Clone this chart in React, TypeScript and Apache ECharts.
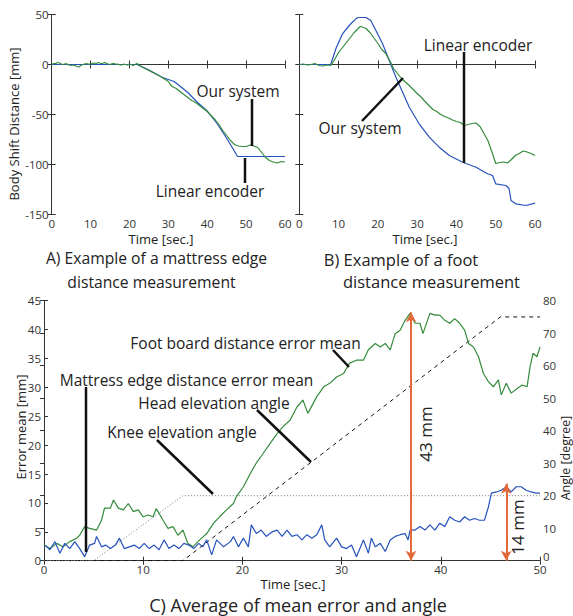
import React, { useEffect, useRef } from "react";
import * as echarts from "echarts";

const FONT = "'Open Sans', 'DejaVu Sans', sans-serif";
const GREEN = "#348c3c";
const BLUE = "#2652bc";
const ORANGE = "#e2693a";
const INK = "#222";

// Panel A: mattress edge distance (time [s], distance [mm])
const mattressEncoder: number[][] = [
  [0, 0], [22, 0], [25, -5.5], [28.5, -13], [31.5, -17], [35, -28], [37.5, -38],
  [40, -46.5], [42.7, -60], [45.2, -75], [47.8, -92], [60, -92],
];
const mattressOurs: number[][] = [
  [0, 0], [0.5, 1], [1, 1], [1.5, 2], [2, 1.5], [2.5, 0.5], [3, 0], [3.5, 0.8], [4, 0.5], [4.5, -0.5],
  [5, -1], [5.5, -0.5], [6, -1.2], [6.5, -2], [7, -2.5], [7.5, -1], [8, 0], [8.5, 0.5], [9, 1], [9.5, 0.3],
  [10, 0.5], [10.5, 1.2], [11, 1.5], [11.5, 1], [12, 2], [12.5, 1.2], [13, 1], [13.5, 1.8], [14, 1.5],
  [14.5, 0.5], [15, 0], [15.5, 0.8], [16, 1], [16.5, 0.2], [17, 0.5], [17.5, -0.3], [18, -0.5], [18.5, 0.3],
  [19, 0], [19.5, -0.5], [20, 0.5], [20.5, -0.2], [21, -1], [21.5, 0.2], [22, 1], [22.5, -1], [23, -2],
  [24, -4], [25, -6], [26, -8], [27, -10], [28, -12], [29, -14.5], [30, -17], [30.5, -20], [31, -22],
  [32, -24], [33, -27], [34, -30], [35, -33], [36, -36], [37, -38], [38, -41], [39, -44], [40, -47],
  [41, -51], [42, -55], [43, -60], [44, -66], [45, -71], [46, -76], [47, -80], [48, -81.5], [49, -82],
  [50, -82], [51, -80.5], [52, -81.5], [53, -83], [54, -88], [55, -93], [56, -96], [57, -97.5],
  [58, -98.5], [59, -97], [60, -97.5],
];

// Panel B: foot distance (time [s], distance [mm])
const footEncoder: number[][] = [
  [0, 0], [8, 0], [9.3, 15.7], [11, 30.7], [12.7, 39], [14.4, 45.7], [15, 47], [17, 47], [18.2, 44],
  [19.5, 34], [21.2, 20.7], [22.9, 4], [24.6, -12.7], [26.3, -27.7], [28, -42.7], [30.5, -59.3],
  [33.1, -72.7], [35.6, -82.7], [38.2, -91], [41.6, -97.7], [45, -102.7], [47.9, -109.3], [49.2, -111],
  [50, -119.3], [52.6, -121], [53.4, -124], [53.9, -136], [55.1, -139.3], [57.7, -141], [60, -138.7],
];
const footOurs: number[][] = [
  [0, 0], [1, 0.5], [2, -0.5], [3, 0], [4, 1], [5, -1], [6, -1.5], [7, -0.5], [8, -1], [9, 5], [10, 12],
  [11, 17], [12, 22], [13, 27], [14, 32], [15, 36], [15.5, 38], [16, 37.5], [17, 36], [18, 32], [19, 26.5],
  [20, 21], [21, 15], [22, 11], [23, 4], [24, -4], [25, -9], [26, -14], [27, -17.5], [28, -21], [29, -25],
  [30, -29], [31, -32.5], [32, -37], [33, -41], [34, -45], [35, -47], [36, -50], [37, -52], [38, -53.5],
  [39, -55.5], [40, -57], [41, -58], [42, -61], [43, -60], [44, -59], [45, -58.5], [46, -62], [47, -69],
  [48, -76], [49, -87], [50, -99], [51, -98], [52, -97.5], [53, -98.5], [54, -95], [55, -91], [56, -89],
  [57, -86.5], [58, -87.5], [59, -89], [60, -91],
];

// Panel C: error means (time [s], mm) and angles (time [s], degree)
const footErrorMean: number[][] = [
  [0, 2.7], [0.6, 2.1], [1.3, 3.0], [1.9, 2.4], [2.6, 3.3], [3.3, 3.9], [3.6, 4.4], [4.1, 5.9], [4.6, 5.6],
  [5.3, 5.3], [5.8, 7.0], [6.1, 9.1], [6.7, 9.1], [7.0, 10.5], [7.5, 9.1], [8.0, 8.8], [8.5, 9.9], [9.0, 8.5],
  [9.5, 8.8], [10.0, 7.6], [10.5, 7.9], [11.0, 7.6], [11.3, 9.0], [11.5, 8.5], [12.0, 7.0], [12.5, 5.6],
  [13.0, 5.9], [13.5, 4.4], [14.0, 5.3], [14.5, 3.0], [15.0, 2.4], [15.7, 3.6], [16.4, 4.7], [17.1, 6.5],
  [17.7, 7.6], [18.4, 8.8], [19.1, 9.9], [19.4, 11.1], [20.1, 12.8], [20.8, 15.1], [21.4, 16.9], [22.1, 18.6],
  [22.8, 20.3], [23.5, 22.0], [24.1, 23.2], [24.8, 24.3], [25.5, 26.6], [26.1, 27.8], [26.6, 25.5],
  [27.5, 28.4], [28.2, 30.1], [28.8, 30.7], [29.5, 31.8], [30.2, 32.4], [30.8, 34.2], [31.5, 34.7],
  [32.2, 34.7], [32.7, 36.5], [33.4, 37.6], [33.9, 37.0], [34.4, 37.6], [34.9, 36.5], [35.4, 39.3],
  [35.9, 39.9], [36.4, 41.6], [36.9, 42.8], [37.4, 41.1], [37.9, 41.1], [38.2, 39.3], [38.9, 42.8],
  [39.4, 42.5], [39.9, 42.5], [40.4, 41.6], [40.9, 41.1], [41.4, 41.9], [41.9, 41.1], [42.4, 39.9],
  [42.8, 37.6], [43.3, 37.0], [43.8, 35.3], [44.3, 32.4], [44.8, 31.0], [45.3, 30.1], [45.8, 31.3],
  [46.1, 28.7], [46.6, 30.7], [47.1, 29.0], [47.7, 29.8], [48.2, 30.4], [48.7, 30.1], [49.0, 33.6],
  [49.3, 35.9], [49.7, 35.3], [50, 37.0],
];
const mattressErrorMean: number[][] = [
  [0.1, 2.7], [0.6, 1.9], [1.1, 3.3], [1.6, 1.3], [2.1, 3.0], [2.6, 2.1], [3.1, 3.3], [3.6, 2.1], [4.1, 0.7],
  [4.6, 2.7], [5.1, 3.0], [5.3, 4.2], [5.8, 2.4], [6.2, 2.7], [6.7, 2.1], [7.2, 2.7], [7.6, 3.9], [8.1, 2.1],
  [8.6, 2.4], [9.1, 2.7], [9.6, 2.1], [10.1, 3.0], [10.6, 2.1], [11.1, 2.7], [11.6, 1.9], [12.1, 3.6],
  [12.6, 2.1], [13.1, 2.7], [13.6, 2.1], [14.1, 3.0], [14.6, 2.7], [15.1, 2.1], [15.6, 3.0], [16.0, 2.4],
  [16.4, 3.6], [16.9, 1.0], [17.4, 3.6], [18.1, 2.4], [18.8, 3.3], [19.1, 4.2], [19.6, 2.4], [20.1, 3.9],
  [20.6, 2.4], [20.9, 6.2], [21.4, 4.7], [21.9, 5.3], [22.4, 4.2], [23.0, 5.0], [23.5, 5.3], [24.0, 4.2],
  [24.5, 5.3], [25.0, 4.2], [25.5, 4.5], [26.0, 3.6], [26.5, 4.5], [27.0, 3.9], [27.5, 4.5], [28.0, 6.2],
  [28.3, 3.6], [28.8, 2.4], [29.5, 3.9], [30.0, 2.4], [30.5, 2.1], [31.0, 2.7], [31.5, 0.7], [32.2, 3.6],
  [32.7, 1.3], [33.0, 3.9], [33.4, 2.4], [33.9, 3.0], [34.4, 1.6], [34.9, 3.6], [35.4, 4.2], [35.9, 4.5],
  [36.4, 4.7], [36.7, 3.6], [36.9, 5.3], [37.4, 5.3], [37.9, 5.9], [38.4, 5.3], [38.9, 6.2], [39.4, 5.3],
  [39.9, 6.5], [40.4, 5.9], [40.9, 7.6], [41.4, 7.0], [41.9, 6.7], [42.4, 7.6], [42.9, 7.0], [43.4, 7.3],
  [43.9, 7.0], [44.4, 7.0], [44.8, 9.3], [45.1, 11.7], [45.6, 11.9], [46.1, 12.2], [46.6, 12.8], [47.1, 11.9],
  [47.6, 12.8], [48.1, 12.8], [48.6, 12.2], [49.1, 11.9], [49.6, 11.7], [50, 11.7],
];
const headAngle: number[][] = [[0, 0], [14, 0], [46, 75], [50, 75]];
const kneeAngle: number[][] = [[0, 0], [5, 0], [14, 20], [50, 20]];
const arrowFoot: number[] = [37, 0, 43]; // x, from, to (mm)
const arrowMattress: number[] = [46.6, 0, 13.3];

const axisCommon = {
  axisLine: { show: true, lineStyle: { color: "#333", width: 1 } },
  axisTick: { show: true, inside: true, length: 4, lineStyle: { color: "#333" } },
  splitLine: { show: false },
};
const labelStyle = { color: "#333", fontSize: 11.5, fontFamily: FONT };

function xAx(gridIndex: number, max: number, pos: "top" | "bottom", labels: boolean) {
  return {
    type: "value", gridIndex, min: 0, max, interval: 10, position: pos, ...axisCommon,
    axisLabel: labels ? { ...labelStyle, margin: 3 } : { show: false },
  };
}
function yAx(gridIndex: number, min: number, max: number, interval: number, pos: "left" | "right", labels: boolean, liftZero = false) {
  const label: any = labels ? { ...labelStyle, margin: 3 } : { show: false };
  if (labels && liftZero) {
    label.formatter = (v: number) => (v === 0 ? "{z|0}" : String(v));
    label.rich = { z: { ...labelStyle, padding: [0, 0, 8, 0] } };
  }
  return { type: "value", gridIndex, min, max, interval, position: pos, ...axisCommon, axisLabel: label };
}

function txt(text: string, x: number, y: number, size: number, opts: any = {}) {
  return {
    type: "text", x, y, rotation: opts.rotation || 0, z: 100,
    style: {
      text, x: 0, y: 0, fontSize: size, fontFamily: FONT, fill: INK,
      align: opts.align || "center", verticalAlign: "middle",
    },
  };
}
function ln(x1: number, y1: number, x2: number, y2: number) {
  return { type: "line", z: 100, shape: { x1, y1, x2, y2 }, style: { stroke: "#111", lineWidth: 2.5 } };
}

export default function App() {
  const ref = useRef<HTMLDivElement>(null);
  useEffect(() => {
    const chart = echarts.init(ref.current!, null, { renderer: "svg" });
    const lineS = (data: number[][], xi: number, yi: number, color: string, extra: any = {}) => ({
      type: "line", xAxisIndex: xi, yAxisIndex: yi, data, showSymbol: false, symbol: "none",
      lineStyle: { color, width: 1.2 }, silent: true, ...extra,
    });
    chart.setOption({
      animation: false,
      backgroundColor: "#fff",
      grid: [
        { left: 51.7, top: 14.5, width: 233.3, height: 200 },
        { left: 299.3, top: 14.5, width: 235.7, height: 200 },
        { left: 44, top: 300.7, width: 496, height: 260 },
      ],
      xAxis: [
        xAx(0, 60, "bottom", true), xAx(0, 60, "top", false),
        xAx(1, 60, "bottom", true), xAx(1, 60, "top", false),
        xAx(2, 50, "bottom", true), xAx(2, 50, "top", false),
      ],
      yAxis: [
        yAx(0, -150, 50, 50, "left", true), yAx(0, -150, 50, 50, "right", false),
        yAx(1, -150, 50, 50, "left", false), yAx(1, -150, 50, 50, "right", false),
        yAx(2, 0, 45, 5, "left", true), yAx(2, 0, 80, 10, "right", true, true),
      ],
      series: [
        lineS(mattressEncoder, 0, 0, BLUE),
        lineS(mattressOurs, 0, 0, GREEN),
        lineS(footEncoder, 2, 2, BLUE),
        lineS(footOurs, 2, 2, GREEN),
        lineS(headAngle, 4, 5, "#111", { lineStyle: { color: "#111", width: 1, type: [4, 4] } }),
        lineS(kneeAngle, 4, 5, "#777", { lineStyle: { color: "#777", width: 1, type: [1, 2] } }),
        lineS(footErrorMean, 4, 4, GREEN, {
          markLine: {
            silent: true, symbol: ["arrow", "arrow"], symbolSize: [8, 10],
            label: { show: false },
            lineStyle: { color: ORANGE, width: 2, type: "solid" },
            data: [
              [{ coord: [arrowFoot[0], arrowFoot[1]] }, { coord: [arrowFoot[0], arrowFoot[2]] }],
              [{ coord: [arrowMattress[0], arrowMattress[1]] }, { coord: [arrowMattress[0], arrowMattress[2]] }],
            ],
          },
        }),
        lineS(mattressErrorMean, 4, 4, BLUE),
      ],
      graphic: [
        // axis names
        txt("Body Shift Distance [mm]", 13.5, 124, 13, { rotation: Math.PI / 2 }),
        txt("Time [sec.]", 161, 239, 13),
        txt("Time [sec.]", 425, 239, 13),
        txt("Error mean [mm]", 20.5, 427, 13, { rotation: Math.PI / 2 }),
        txt("Angle [degree]", 565.5, 458, 12.5, { rotation: Math.PI / 2 }),
        txt("Time [sec.]", 293, 584, 13),
        // captions
        txt("A) Example of a mattress edge", 156.5, 258, 15.7),
        txt("distance measurement", 151.5, 282, 15.7),
        txt("B) Example of a foot", 401, 259.5, 16.5),
        txt("distance measurement", 431.5, 281.5, 16.5),
        txt("C) Average of mean error and angle", 298, 605, 18),
        // panel A annotations
        txt("Our system", 238, 91, 15.5), ln(252, 99, 252, 146),
        txt("Linear encoder", 210, 191, 15.5), ln(245, 158, 245, 183),
        // panel B annotations
        txt("Linear encoder", 478, 45, 15.5), ln(464, 52, 464, 163),
        txt("Our system", 360, 128, 15.5), ln(362, 121, 403, 78),
        // panel C annotations
        txt("Foot board distance error mean", 245.5, 343, 15.5), ln(333, 350, 349, 367),
        txt("Mattress edge distance error mean", 186.5, 380, 15.5), ln(86, 387, 86, 552),
        txt("Head elevation angle", 214, 403, 15.5), ln(257, 410, 311, 462),
        txt("Knee elevation angle", 182, 432, 15.5), ln(157, 440, 213, 494),
        txt("43 mm", 425, 434, 17, { rotation: Math.PI / 2 }),
        txt("14 mm", 517, 527, 17, { rotation: Math.PI / 2 }),
      ],
    });
    return () => chart.dispose();
  }, []);
  return <div ref={ref} style={{ position: "absolute", left: 0, top: 0, width: 573, height: 616 }} />;
}
